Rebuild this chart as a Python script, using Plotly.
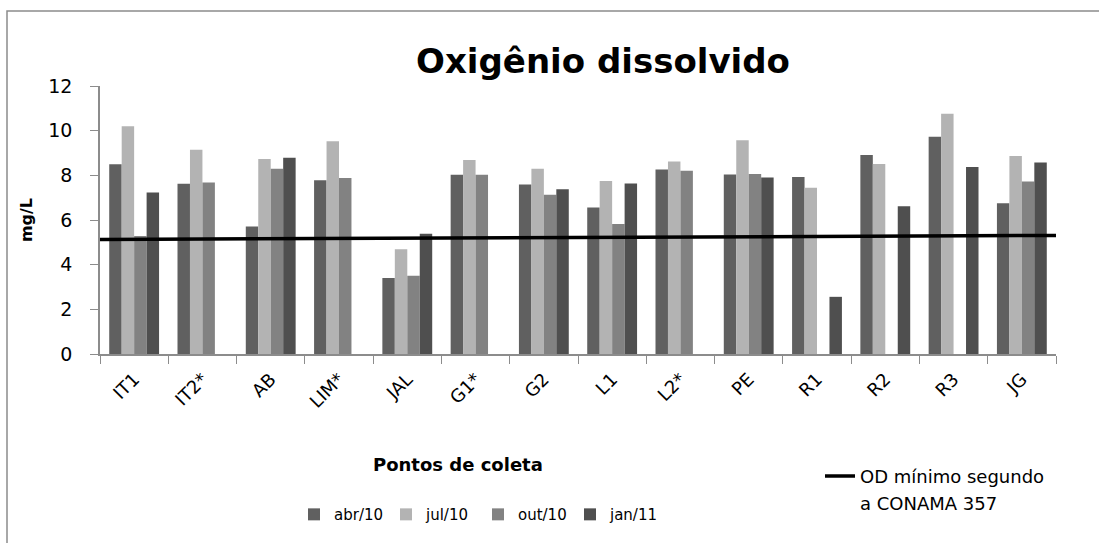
import plotly.graph_objects as go

categories = ["IT1", "IT2*", "AB", "LIM*", "JAL", "G1*", "G2", "L1", "L2*", "PE", "R1", "R2", "R3", "JG"]
abr10 = [8.50, 7.62, 5.71, 7.78, 3.40, 8.03, 7.59, 6.56, 8.26, 8.04, 7.93, 8.91, 9.73, 6.75]
jul10 = [10.20, 9.15, 8.73, 9.53, 4.69, 8.69, 8.29, 7.75, 8.62, 9.57, 7.44, 8.51, 10.76, 8.87]
out10 = [5.28, 7.68, 8.29, 7.88, 3.50, 8.03, 7.13, 5.82, 8.20, 8.06, None, None, None, 7.72]
jan11 = [7.23, None, 8.79, None, 5.38, None, 7.38, 7.63, None, 7.90, 2.56, 6.62, 8.37, 8.57]
od_min_x = [0, 1]
od_min = [5.13, 5.31]

series = [("abr/10", abr10, "#606060"), ("jul/10", jul10, "#b3b3b3"),
          ("out/10", out10, "#828282"), ("jan/11", jan11, "#4f4f4f")]

FONT = "DejaVu Sans"
# plot area in pixels
L, R, T, B = 100, 1056, 86, 358
PW, PH = R - L, B - T


def px(x):
    return (x - L) / PW


def py(y):
    return (B - y) / PH


fig = go.Figure()
for name, vals, col in series:
    fig.add_trace(go.Bar(x=categories, y=vals, name=name, marker_color=col,
                         marker_line_width=0, legend="legend"))

fig.add_trace(go.Scatter(x=od_min_x, y=od_min, xaxis="x2", yaxis="y", mode="lines",
                         line=dict(color="black", width=3.5),
                         name="OD mínimo segundo", legend="legend2",
                         cliponaxis=False))

fig.update_layout(
    width=1099, height=543,
    margin=dict(l=L, r=1099 - R, t=T, b=543 - B),
    paper_bgcolor="white", plot_bgcolor="white",
    barmode="group", bargap=0.27, bargroupgap=0,
    font=dict(family=FONT, color="black"),
    title=dict(text="<b>Oxigênio dissolvido</b>", x=603 / 1099, xanchor="center",
               y=1 - 61 / 543, yanchor="middle", font=dict(size=34, family=FONT)),
    xaxis=dict(type="category", tickson="boundaries", ticks="outside", ticklen=8,
               tickcolor="#8c8c8c", showline=True, linecolor="#8c8c8c", linewidth=1.5,
               tickangle=-45, tickfont=dict(size=18, family=FONT), showgrid=False,
               ticklabelstandoff=6),
    xaxis2=dict(overlaying="x", range=[0, 1], visible=False),
    yaxis=dict(range=[0, 12], dtick=2, ticks="outside", ticklen=8, tickcolor="#8c8c8c",
               showline=True, linecolor="#8c8c8c", linewidth=1.5, showgrid=False,
               zeroline=False, tickfont=dict(size=19, family=FONT), ticklabelstandoff=14,
               title=dict(text="<b>mg/L</b>", font=dict(size=16, family=FONT), standoff=12)),
    legend=dict(orientation="h", x=px(478), xanchor="center", y=py(521), yanchor="middle",
                font=dict(size=15, family=FONT), itemwidth=30, traceorder="normal",
                entrywidth=47, bgcolor="rgba(0,0,0,0)"),
    legend2=dict(x=px(820), xanchor="left", y=py(482), yanchor="middle",
                 font=dict(size=18, family=FONT), bgcolor="rgba(0,0,0,0)", itemwidth=30),
    annotations=[
        dict(text="<b>Pontos de coleta</b>", xref="paper", yref="paper",
             x=px(458), y=py(470), xanchor="center", yanchor="middle",
             showarrow=False, font=dict(size=18, family=FONT)),
        dict(text="a CONAMA 357", xref="paper", yref="paper",
             x=px(858), y=py(510), xanchor="left", yanchor="middle",
             showarrow=False, font=dict(size=18, family=FONT)),
    ],
    shapes=[dict(type="rect", xref="paper", yref="paper",
                 x0=px(7), x1=px(1120), y0=py(560), y1=py(10),
                 line=dict(color="#8c8c8c", width=1.5), fillcolor="rgba(0,0,0,0)", layer="below")],
)

fig.write_html("out.html")
